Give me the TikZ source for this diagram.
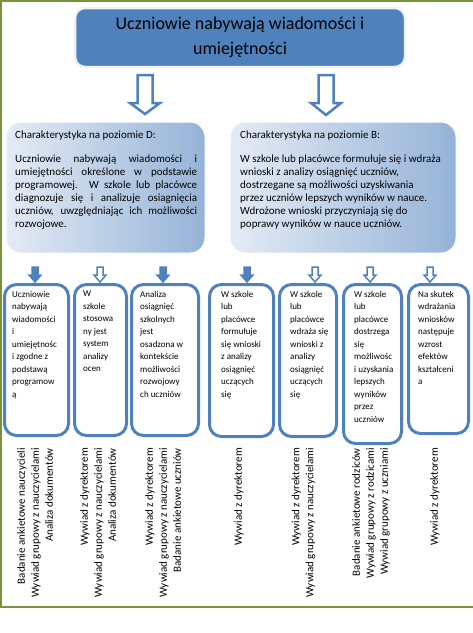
\documentclass[tikz,border=0pt]{standalone}
\usepackage{fontspec}
\setmainfont{Carlito}
\definecolor{accent}{HTML}{4F81BD}
\definecolor{frameg}{HTML}{77933C}
\definecolor{shl}{HTML}{E4EBF5}
\definecolor{shr}{HTML}{95B3D7}
\newcommand\barrow[7]{\draw[#7] ({#1-#5},#2) -- ({#1+#5},#2) -- ({#1+#5},#3) -- ({#1+#6},#3) -- (#1,#4) -- ({#1-#6},#3) -- ({#1-#5},#3) -- cycle;}
\tikzset{
  titlebox/.style={rounded corners=10pt, fill=accent, draw=gray!10, line width=2.5pt, minimum width=330pt, minimum height=59pt, inner sep=0pt, align=center, font=\fontsize{18}{25}\selectfont},
  charbox/.style={rounded corners=15pt, left color=shl, right color=shr, draw=white, line width=1pt, minimum height=131pt, inner sep=0pt},
  lowbox/.style={rounded corners=12pt, draw=accent, fill=white, line width=3pt, inner sep=0pt},
  chartext/.style={anchor=north west, inner sep=0pt, align=left, font=\fontsize{11}{13}\selectfont},
  lowtext/.style={anchor=north west, inner sep=0pt, align=left, font=\fontsize{9}{12.5}\selectfont},
  rottext/.style={anchor=east, rotate=90, inner sep=0pt, align=right, font=\fontsize{11}{14}\selectfont},
  bigarrow/.style={draw=accent, fill=white, line width=2.5pt, line join=miter},
  smallarrowfull/.style={draw=accent, fill=accent, line width=1.5pt},
  smallarrowopen/.style={draw=accent, fill=white, line width=1.5pt},
}
\begin{document}
\begin{tikzpicture}[x=1pt,y=-1pt]
\useasboundingbox (0,0) rectangle (473,633);
\draw[frameg, line width=1.5pt] (473,1) -- (1,1) -- (1,607) -- (473,607);

\node[titlebox] (top) at (240,37.5) {Uczniowie nabywają wiadomości i\\umiejętności};

\barrow{145}{75}{103}{114}{7.5}{15}{bigarrow}
\barrow{326}{75}{103}{115}{7.5}{15}{bigarrow}

\node[charbox, minimum width=199pt] (cd) at (105.5,187.5) {};
\node[charbox, minimum width=226pt] (cb) at (343,187.5) {};

\node[chartext] (cdt) at (15,131) {Charakterystyka na poziomie D:\\[11pt]
\makebox[182pt][s]{Uczniowie nabywają wiadomości i}\\
\makebox[182pt][s]{umiejętności określone w podstawie}\\
\makebox[182pt][s]{programowej. W szkole lub placówce}\\
\makebox[182pt][s]{diagnozuje się i analizuje osiagnięcia}\\
\makebox[182pt][s]{uczniów, uwzględniając ich możliwości}\\
rozwojowe.};

\node[chartext] (cbt) at (240,131) {Charakterystyka na poziomie B:\\[11pt]
W szkole lub placówce formułuje się i wdraża\\
wnioski z analizy osiągnięć uczniów,\\
dostrzegane są możliwości uzyskiwania\\
przez uczniów lepszych wyników w nauce.\\
Wdrożone wnioski przyczyniają się do\\
poprawy wyników w nauce uczniów.};

% small arrows
\barrow{35}{267}{275}{282}{3}{6}{smallarrowfull}
\barrow{100}{267}{275}{282}{3}{6}{smallarrowopen}
\barrow{163}{267}{275}{282}{3}{6}{smallarrowfull}
\barrow{247}{267}{275}{282}{3}{6}{smallarrowfull}
\barrow{315}{267}{275}{282}{3}{6}{smallarrowopen}
\barrow{370}{267}{275}{282}{3}{6}{smallarrowopen}
\barrow{430}{267}{275}{282}{3}{6}{smallarrowopen}

% lower boxes
\node[lowbox, minimum width=64pt, minimum height=151pt] (b1) at (36.5,360) {};
\node[lowbox, minimum width=52pt, minimum height=151pt] (b2) at (100.5,360) {};
\node[lowbox, minimum width=67pt, minimum height=151pt] (b3) at (165,360) {};
\node[lowbox, minimum width=64pt, minimum height=152pt] (b4) at (241.5,360.5) {};
\node[lowbox, minimum width=57pt, minimum height=152pt] (b5) at (308,360.5) {};
\node[lowbox, minimum width=58pt, minimum height=159pt] (b6) at (372.5,364) {};
\node[lowbox, minimum width=60pt, minimum height=149pt] (b7) at (438.5,359) {};

\node[lowtext] (t1) at (12,291) {Uczniowie\\nabywają\\wiadomości\\i\\umiejętnośc\\i zgodne z\\podstawą\\programow\\ą};
\node[lowtext] (t2) at (83,291) {W\\szkole\\stosowa\\ny jest\\system\\analizy\\ocen};
\node[lowtext] (t3) at (140,291) {Analiza\\osiągnięć\\szkolnych\\jest\\osadzona w\\kontekście\\możliwości\\rozwojowy\\ch uczniów};
\node[lowtext] (t4) at (221,291) {W szkole\\lub\\placówce\\formułuje\\się wnioski\\z analizy\\osiągnięć\\uczących\\się};
\node[lowtext] (t5) at (290,291) {W szkole\\lub\\placówce\\wdraża się\\wnioski z\\analizy\\osiągnięć\\uczących\\się};
\node[lowtext] (t6) at (354,291) {W szkole\\lub\\placówce\\dostrzega\\się\\możliwośc\\i uzyskania\\lepszych\\wyników\\przez\\uczniów};
\node[lowtext] (t7) at (418,291) {Na skutek\\wdrażania\\wniosków\\następuje\\wzrost\\efektów\\kształceni\\a};

% rotated method lists
\node[rottext] (m1) at (35,448) {Badanie ankietowe nauczycieli\\Wywiad grupowy z nauczycielami\\Analiza dokumentów};
\node[rottext] (m2) at (98,448) {Wywiad z dyrektorem\\Wywiad grupowy z nauczycielami\\Analiza dokumentów};
\node[rottext] (m3) at (163,448) {Wywiad z dyrektorem\\Wywiad grupowy z nauczycielami\\Badanie ankietowe uczniów};
\node[rottext] (m4) at (239,448) {Wywiad z dyrektorem};
\node[rottext] (m5) at (303.5,448) {Wywiad z dyrektorem\\Wywiad grupowy z nauczycielami};
\node[rottext] (m6) at (371,448) {Badanie ankietowe rodziców\\Wywiad grupowy z rodzicami\\Wywiad grupowy z uczniami};
\node[rottext] (m7) at (435,448) {Wywiad z dyrektorem};
\end{tikzpicture}
\end{document}
